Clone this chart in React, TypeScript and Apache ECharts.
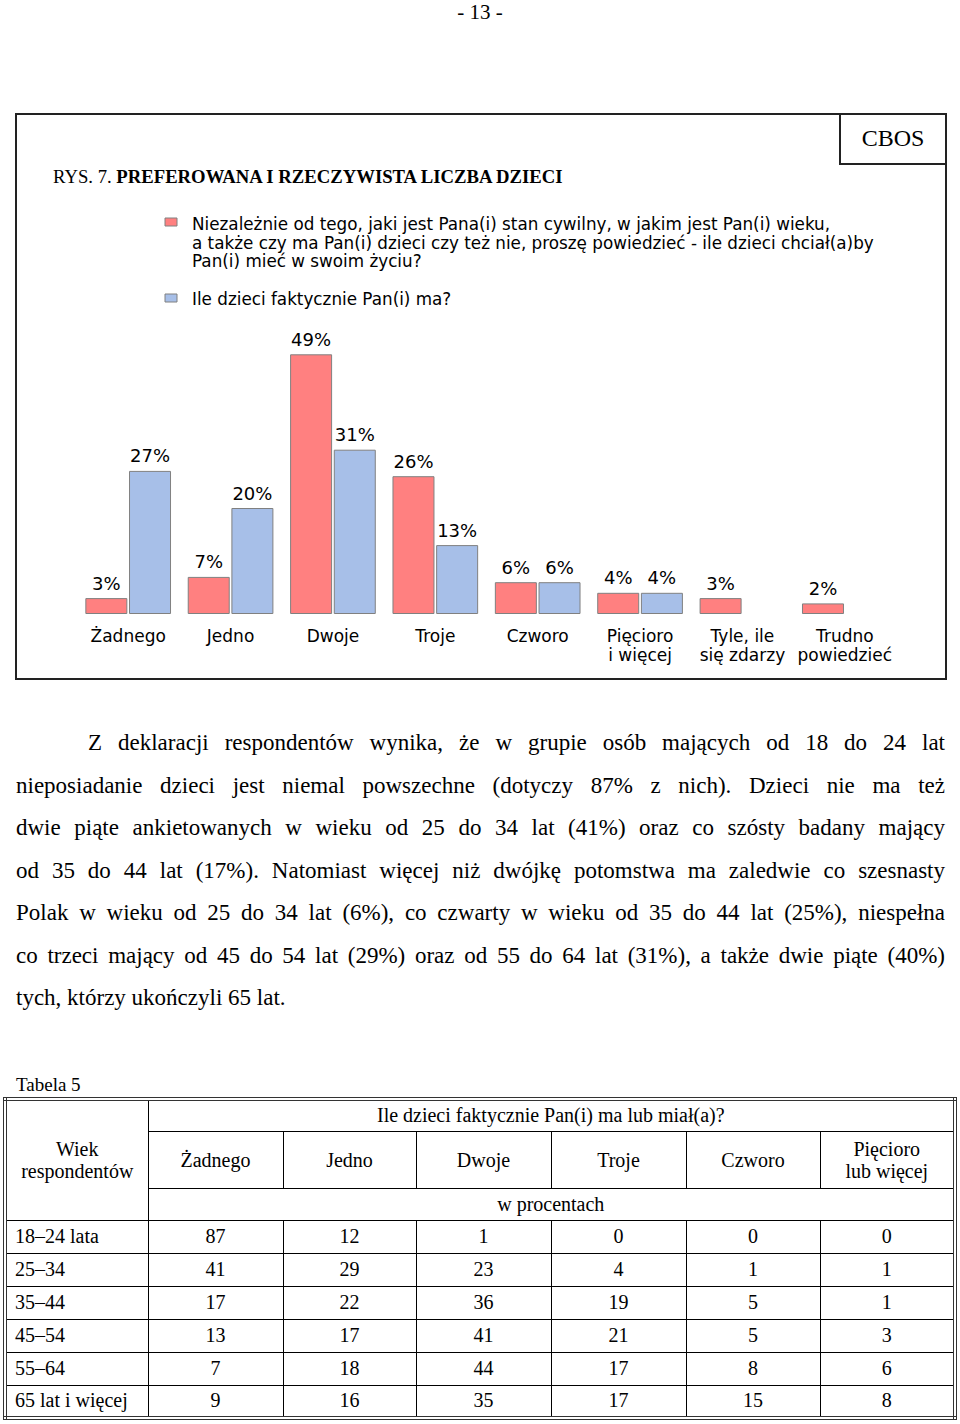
import React, { useEffect, useRef } from "react";
import * as echarts from "echarts";

const categories = [
  "Żadnego",
  "Jedno",
  "Dwoje",
  "Troje",
  "Czworo",
  "Pięcioro\ni więcej",
  "Tyle, ile\nsię zdarzy",
  "Trudno\npowiedzieć",
];
const preferred = [3, 7, 49, 26, 6, 4, 3, 2];
const actual: (number | null)[] = [27, 20, 31, 13, 6, 4, null, null];

const preferredName =
  "Niezależnie od tego, jaki jest Pana(i) stan cywilny, w jakim jest Pan(i) wieku,\na także czy ma Pan(i) dzieci czy też nie, proszę powiedzieć - ile dzieci chciał(a)by\nPan(i) mieć w swoim życiu?";
const actualName = "Ile dzieci faktycznie Pan(i) ma?";

const tableQuestion = "Ile dzieci faktycznie Pan(i) ma lub miał(a)?";
const tableColumns = ["Żadnego", "Jedno", "Dwoje", "Troje", "Czworo", "Pięcioro\nlub więcej"];
const ageGroups = ["18–24 lata", "25–34", "35–44", "45–54", "55–64", "65 lat i więcej"];
const tableNone = [87, 41, 17, 13, 7, 9];
const tableOne = [12, 29, 22, 17, 18, 16];
const tableTwo = [1, 23, 36, 41, 44, 35];
const tableThree = [0, 4, 19, 21, 17, 17];
const tableFour = [0, 1, 5, 5, 8, 15];
const tableFivePlus = [0, 1, 1, 3, 6, 8];

const paragraphLines = [
  "Z deklaracji respondentów wynika, że w grupie osób mających od 18 do 24 lat",
  "nieposiadanie dzieci jest niemal powszechne (dotyczy 87% z nich). Dzieci nie ma też",
  "dwie piąte ankietowanych w wieku od 25 do 34 lat (41%)  oraz co szósty badany mający",
  "od 35 do 44 lat (17%). Natomiast więcej niż dwójkę potomstwa ma zaledwie co szesnasty",
  "Polak w wieku od 25 do 34 lat (6%), co czwarty w wieku od 35 do 44 lat (25%), niespełna",
  "co trzeci mający od 45 do 54 lat (29%) oraz od 55 do 64 lat (31%), a także dwie piąte (40%)",
  "tych, którzy ukończyli 65 lat.",
];

const RED = "#ff8080";
const BLUE = "#a7bfe8";
const SANS = "DejaVu Sans";
const SERIF = "Liberation Serif";

function Chart() {
  const ref = useRef<HTMLDivElement>(null);
  useEffect(() => {
    if (!ref.current) return;
    const chart = echarts.init(ref.current, undefined, { renderer: "svg" });
    const valueLabel = {
      show: true,
      position: "top",
      distance: 6,
      formatter: "{c}%",
      fontFamily: SANS,
      fontSize: 18,
      color: "#000",
    };
    chart.setOption({
      animation: false,
      grid: { left: 77, right: 64, top: 296, bottom: 86 },
      xAxis: {
        type: "category",
        data: categories,
        axisLine: { show: false },
        axisTick: { show: false },
        axisLabel: {
          interval: 0,
          margin: 12,
          fontFamily: SANS,
          fontSize: 17,
          lineHeight: 19,
          color: "#000",
        },
      },
      yAxis: { type: "value", min: 0, max: 60, show: false, splitLine: { show: false } },
      series: [
        {
          name: preferredName,
          type: "bar",
          data: preferred,
          barWidth: 42,
          barGap: "4%",
          itemStyle: { color: RED, borderColor: "#808080", borderWidth: 1 },
          label: valueLabel,
        },
        {
          name: actualName,
          type: "bar",
          data: actual,
          barWidth: 42,
          itemStyle: { color: BLUE, borderColor: "#808080", borderWidth: 1 },
          label: valueLabel,
        },
      ],
      graphic: [
        {
          type: "rect",
          shape: { x: 16, y: 114, width: 930, height: 565 },
          style: { fill: "none", stroke: "#222", lineWidth: 2 },
        },
        {
          type: "rect",
          shape: { x: 840, y: 114, width: 106, height: 50 },
          style: { fill: "none", stroke: "#222", lineWidth: 2 },
        },
        {
          type: "text",
          style: {
            x: 893,
            y: 138,
            text: "CBOS",
            fontFamily: SERIF,
            fontSize: 24,
            fill: "#000",
            textAlign: "center",
            textVerticalAlign: "middle",
          },
        },
        {
          type: "text",
          style: {
            x: 53,
            y: 176,
            text: "{n|RYS. 7. }{b|PREFEROWANA I RZECZYWISTA LICZBA DZIECI}",
            textVerticalAlign: "middle",
            rich: {
              n: { fontFamily: SERIF, fontSize: 18.7, fill: "#000" },
              b: { fontFamily: SERIF, fontSize: 18.7, fontWeight: "bold", fill: "#000" },
            },
          },
        },
        {
          type: "rect",
          shape: { x: 165, y: 218, width: 12, height: 8 },
          style: { fill: RED, stroke: "#808080", lineWidth: 1 },
        },
        {
          type: "text",
          style: {
            x: 192,
            y: 214.5,
            text: preferredName,
            fontFamily: SANS,
            fontSize: 16.8,
            lineHeight: 18.7,
            fill: "#000",
            textVerticalAlign: "top",
          },
        },
        {
          type: "rect",
          shape: { x: 165, y: 294, width: 12, height: 8 },
          style: { fill: BLUE, stroke: "#808080", lineWidth: 1 },
        },
        {
          type: "text",
          style: {
            x: 192,
            y: 299,
            text: actualName,
            fontFamily: SANS,
            fontSize: 16.8,
            fill: "#000",
            textVerticalAlign: "middle",
          },
        },
      ],
    });
    return () => chart.dispose();
  }, []);
  return (
    <div
      ref={ref}
      style={{ position: "absolute", left: 0, top: 0, width: 960, height: 700 }}
    />
  );
}

const cellBorder = "1px solid #000";

export default function App() {
  const tableData = [tableNone, tableOne, tableTwo, tableThree, tableFour, tableFivePlus];
  const colWidths = [143, 135, 133, 135, 135, 134, 135];
  return (
    <div
      style={{
        position: "absolute",
        left: 0,
        top: 0,
        width: 960,
        height: 1424,
        background: "#fff",
        fontFamily: SERIF,
        color: "#000",
        overflow: "hidden",
      }}
    >
      <div
        style={{
          position: "absolute",
          left: 0,
          top: 0,
          width: 960,
          textAlign: "center",
          fontSize: 21,
          lineHeight: "24px",
        }}
      >
        - 13 -
      </div>
      <Chart />
      <div style={{ position: "absolute", left: 16, top: 722, width: 929, fontSize: 23 }}>
        {paragraphLines.map((line, i) => (
          <div
            key={i}
            style={{
              height: 42.5,
              lineHeight: "42.5px",
              textAlign: i === paragraphLines.length - 1 ? "left" : "justify",
              textAlignLast: i === paragraphLines.length - 1 ? "left" : "justify",
              paddingLeft: i === 0 ? 72 : 0,
              whiteSpace: "nowrap",
            }}
          >
            {line}
          </div>
        ))}
      </div>
      <div style={{ position: "absolute", left: 16, top: 1074, fontSize: 19, lineHeight: "22px" }}>
        Tabela 5
      </div>
      <table
        style={{
          position: "absolute",
          left: 3,
          top: 1097,
          width: 950,
          borderCollapse: "collapse",
          border: "4px double #333",
          fontSize: 20,
          tableLayout: "fixed",
        }}
      >
        <colgroup>
          {colWidths.map((w, i) => (
            <col key={i} style={{ width: w }} />
          ))}
        </colgroup>
        <tbody>
          <tr style={{ height: 32 }}>
            <td
              rowSpan={3}
              style={{ border: cellBorder, textAlign: "center", lineHeight: "22px", whiteSpace: "pre", padding: 0 }}
            >
              {"Wiek\nrespondentów"}
            </td>
            <td colSpan={6} style={{ border: cellBorder, textAlign: "center", padding: 0 }}>
              {tableQuestion}
            </td>
          </tr>
          <tr style={{ height: 57 }}>
            {tableColumns.map((c, i) => (
              <td
                key={i}
                style={{
                  border: cellBorder,
                  textAlign: "center",
                  lineHeight: "22px",
                  whiteSpace: "pre",
                  padding: 0,
                }}
              >
                {c}
              </td>
            ))}
          </tr>
          <tr style={{ height: 32 }}>
            <td colSpan={6} style={{ border: cellBorder, textAlign: "center", padding: 0 }}>
              w procentach
            </td>
          </tr>
          {ageGroups.map((g, r) => (
            <tr key={r} style={{ height: 33 }}>
              <td style={{ border: cellBorder, padding: "0 0 0 8px" }}>{g}</td>
              {tableData.map((col, c) => (
                <td key={c} style={{ border: cellBorder, textAlign: "center", padding: 0 }}>
                  {col[r]}
                </td>
              ))}
            </tr>
          ))}
        </tbody>
      </table>
    </div>
  );
}
